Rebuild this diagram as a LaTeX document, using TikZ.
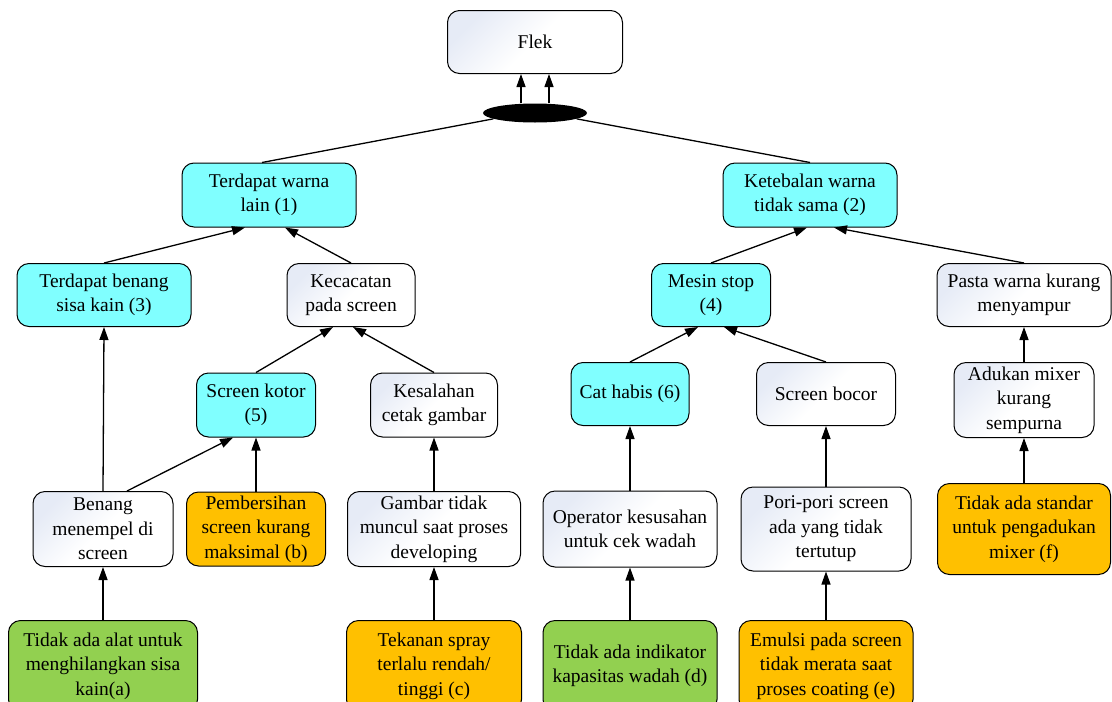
\documentclass[tikz,border=0pt]{standalone}
\usepackage{fontspec}
\setmainfont{Liberation Serif}
\definecolor{causecyan}{HTML}{80FFFF}
\definecolor{rootorange}{HTML}{FFC000}
\definecolor{rootgreen}{HTML}{92D050}
\definecolor{boxshade}{HTML}{E6EBF6}
\usetikzlibrary{calc, positioning, shapes.geometric, arrows.meta}

\begin{document}
\begin{tikzpicture}[x=1pt, y=1pt,
  box/.style={draw=black, line width=1pt, rounded corners=12pt, align=center,
              font=\fontsize{19.5}{24.5}\selectfont, inner sep=2pt},
  wh/.style 2 args={minimum width=#1pt, minimum height=#2pt},
  whitebox/.style={box, left color=boxshade, right color=white, middle color=white, shading angle=45},
  cyanbox/.style={box, fill=causecyan},
  orangebox/.style={box, fill=rootorange},
  greenbox/.style={box, fill=rootgreen},
  link/.style={draw, line width=1.3pt, -{Triangle[length=13pt,width=9pt]}},
  plain/.style={draw, line width=1.3pt},
]
\useasboundingbox (0,0) rectangle (1112,-702);

% top event
\node[whitebox, wh={175}{63}] (flek) at (535,-42) {Flek};
\node[ellipse, fill=black, inner sep=0pt, minimum width=104pt, minimum height=19pt] (junc) at (535,-113) {};

% level 1
\node[cyanbox, wh={174}{64}] (warna) at (269,-195) {Terdapat warna\\lain (1)};
\node[cyanbox, wh={174}{64}] (tebal) at (810,-195) {Ketebalan warna\\tidak sama (2)};

% level 2
\node[cyanbox, wh={174}{63}] (benang) at (104,-295) {Terdapat benang\\sisa kain (3)};
\node[whitebox, wh={128}{63}] (cacat) at (351,-295) {Kecacatan\\pada screen};
\node[cyanbox, wh={119}{63}] (mesin) at (711,-295) {Mesin stop\\(4)};
\node[whitebox, wh={174}{63}] (pasta) at (1024,-295) {Pasta warna kurang\\menyampur};

% level 3
\node[cyanbox, wh={119}{64}] (kotor) at (256,-405) {Screen kotor\\(5)};
\node[whitebox, wh={127}{64}] (cetak) at (434,-405) {Kesalahan\\cetak gambar};
\node[cyanbox, wh={118}{63}] (cat) at (630,-394) {Cat habis (6)};
\node[whitebox, wh={139}{63}] (bocor) at (826,-394) {Screen bocor};
\node[whitebox, wh={140}{75}] (aduk) at (1024,-400) {Adukan mixer\\kurang\\sempurna};

% level 4
\node[whitebox, wh={140}{75}] (tempel) at (103,-529) {Benang\\menempel di\\screen};
\node[orangebox, wh={139}{74}] (bersih) at (256,-529) {Pembersihan\\screen kurang\\maksimal (b)};
\node[whitebox, wh={173}{75}] (muncul) at (434,-529) {Gambar tidak\\muncul saat proses\\developing};
\node[whitebox, wh={174}{76}] (operator) at (630,-529) {Operator kesusahan\\untuk cek wadah};
\node[whitebox, wh={170}{84}] (pori) at (826,-529) {Pori-pori screen\\ada yang tidak\\tertutup};
\node[orangebox, wh={173}{91}] (standar) at (1024,-529) {Tidak ada standar\\untuk pengadukan\\mixer (f)};

% level 5
\node[greenbox, wh={189}{91}] (alat) at (103,-666) {Tidak ada alat untuk\\menghilangkan sisa\\kain(a)};
\node[orangebox, wh={175}{91}] (spray) at (434,-666) {Tekanan spray\\terlalu rendah/\\tinggi (c)};
\node[greenbox, wh={174}{91}] (indikator) at (630,-666) {Tidak ada indikator\\kapasitas wadah (d)};
\node[orangebox, wh={174}{91}] (emulsi) at (826,-666) {Emulsi pada screen\\tidak merata saat\\proses coating (e)};

% connectors
\draw[link] ([xshift=-14pt]junc.north) -- ([xshift=-14pt]flek.south);
\draw[link] ([xshift=14pt]junc.north) -- ([xshift=14pt]flek.south);
\draw[plain] ([xshift=-7pt]warna.north) -- (junc.188);
\draw[plain] (tebal.north) -- (junc.352);

\draw[link] (benang.north) -- ([xshift=-24pt]warna.south);
\draw[link] (cacat.north) -- ([xshift=16pt]warna.south);
\draw[link] (kotor.north) -- ([xshift=-18pt]cacat.south);
\draw[link] (cetak.north) -- ([xshift=2pt]cacat.south);
\draw[link] (tempel.north) -- (benang.south);
\draw[link] ([xshift=24pt]tempel.north) -- ([xshift=-23pt]kotor.south);
\draw[link] (bersih.north) -- (kotor.south);
\draw[link] (muncul.north) -- (cetak.south);
\draw[link] (alat.north) -- (tempel.south);
\draw[link] (spray.north) -- (muncul.south);

\draw[link] (mesin.north) -- ([xshift=-3pt]tebal.south);
\draw[link] (pasta.north) -- ([xshift=24pt]tebal.south);
\draw[link] (cat.north) -- ([xshift=-13pt]mesin.south);
\draw[link] (bocor.north) -- ([xshift=13pt]mesin.south);
\draw[link] (operator.north) -- (cat.south);
\draw[link] (pori.north) -- (bocor.south);
\draw[link] (indikator.north) -- (operator.south);
\draw[link] (emulsi.north) -- (pori.south);
\draw[link] (aduk.north) -- (pasta.south);
\draw[link] (standar.north) -- (aduk.south);
\end{tikzpicture}
\end{document}
